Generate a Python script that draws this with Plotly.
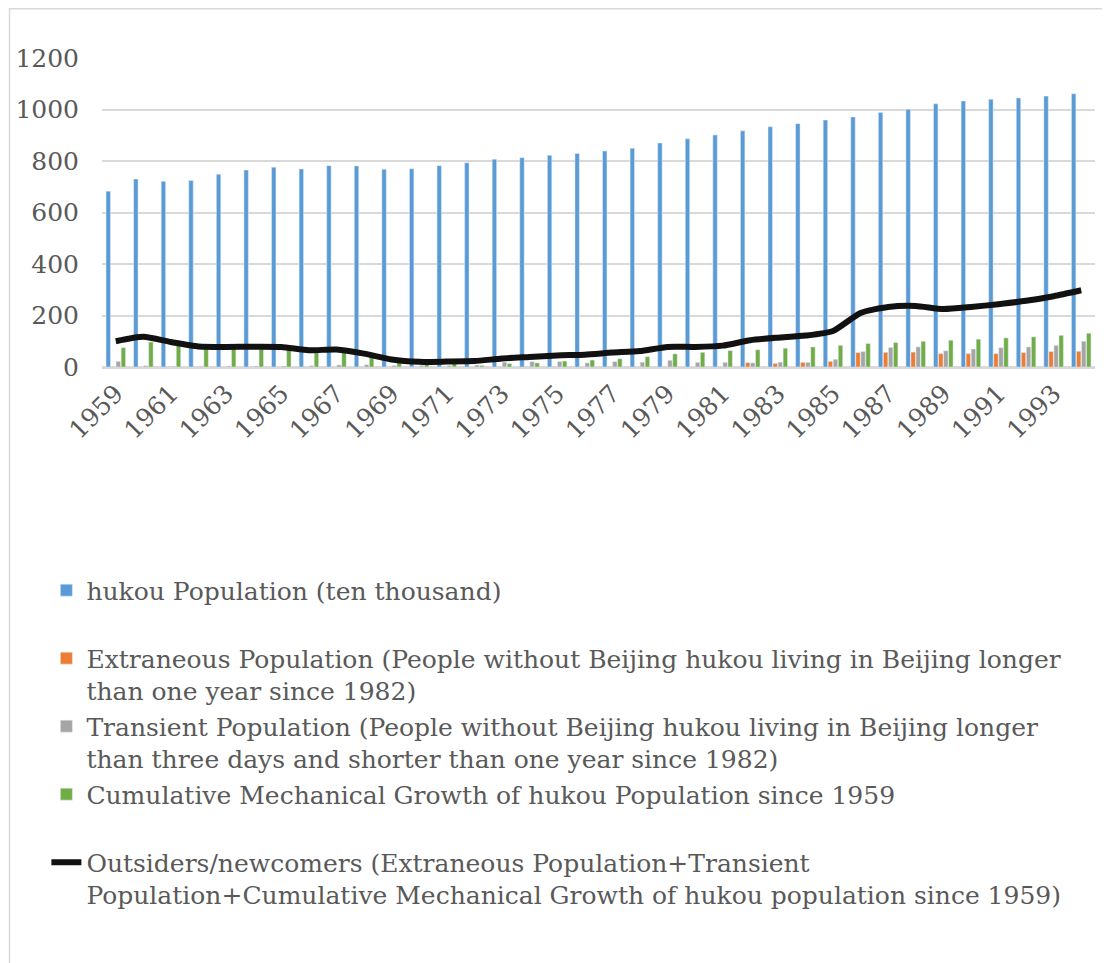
import plotly.graph_objects as go

years = [str(y) for y in range(1959, 1995)]

hukou = [683, 730, 721, 724, 749, 765, 776, 769, 782, 781, 768, 770, 782, 793, 807, 813, 822, 829,
         839, 850, 870, 886, 901, 917, 933, 945, 959, 971, 988, 1001, 1022, 1033, 1040, 1045, 1052, 1061]

extraneous = [None] * 23 + [17, 14, 18, 22, 56, 57, 58, 52, 52, 52, 56, 60, 61]

transient = [22, 5, 3, 3, 4, 4, 4, 5, 8, 9, 6, 6, 6, 8, 19, 21, 21, 16,
             21, 19, 26, 18, 18, 16, 19, 18, 30, 60, 76, 78, 63, 70, 75, 78, 84, 100]

cumulative = [75, 97, 85, 76, 75, 75, 75, 60, 62, 45, 22, 14, 14, 6, 13, 16, 23, 27,
              32, 40, 51, 57, 64, 67, 73, 78, 84, 91, 95, 100, 104, 108, 113, 117, 123, 131]

outsiders = [100, 117, 97, 80, 78, 79, 78, 65, 68, 52, 29, 20, 21, 23, 33, 39, 45, 48,
             56, 62, 78, 78, 83, 104, 114, 122, 140, 210, 233, 237, 225, 233, 244, 257, 275, 298]

tick_years = [str(y) for y in range(1959, 1995, 2)]
y_ticks = [0, 200, 400, 600, 800, 1000, 1200]

names = [
    "hukou Population (ten thousand)<br>\u00a0",
    "Extraneous Population (People without Beijing hukou living in Beijing longer<br>than one year since 1982)",
    "Transient Population (People without Beijing hukou living in Beijing longer<br>than three days and shorter than one year since 1982)",
    "Cumulative Mechanical Growth of hukou Population since 1959<br>\u00a0",
    "Outsiders/newcomers (Extraneous Population+Transient<br>Population+Cumulative Mechanical Growth of hukou population since 1959)",
]

FONT = "DejaVu Serif"
TXT = "#595959"
FS = 25

fig = go.Figure()
fig.add_trace(go.Bar(x=years, y=hukou, name=names[0], marker_color="#5B9BD5", legendgroup="a"))
fig.add_trace(go.Bar(x=years, y=extraneous, name=names[1], marker_color="#ED7D31", legendgroup="b"))
fig.add_trace(go.Bar(x=years, y=transient, name=names[2], marker_color="#A5A5A5", legendgroup="c"))
fig.add_trace(go.Bar(x=years, y=cumulative, name=names[3], marker_color="#70AD47", legendgroup="d"))
fig.add_trace(go.Scatter(x=years, y=outsiders, name=names[4], mode="lines", legendgroup="e",
                         line=dict(color="#111111", width=6, shape="spline", smoothing=0.6)))

# page body has an 8px default margin, so the figure is 8px smaller and offset
W, H = 1102, 955
L, R, T, B = 94, 15, 50, 596
PW, PH = W - L - R, H - T - B

fig.update_layout(
    width=W, height=H,
    margin=dict(l=L, r=R, t=T, b=B, autoexpand=False),
    paper_bgcolor="white", plot_bgcolor="white",
    font=dict(family=FONT, size=FS, color=TXT),
    barmode="group", bargap=0.27, bargroupgap=0.12,
    showlegend=True,
    legend=dict(
        orientation="v", x=-0.056, xanchor="left", y=-0.6485, yanchor="top",
        font=dict(family=FONT, size=FS, color=TXT), valign="top",
        bgcolor="rgba(0,0,0,0)", tracegroupgap=1, traceorder="normal",
    ),
    xaxis=dict(
        type="category", tickmode="array", tickvals=tick_years, ticktext=tick_years,
        tickangle=-45, showgrid=False, showline=True, linecolor="#D9D9D9", linewidth=2,
        ticks="", automargin=False, tickfont=dict(family=FONT, size=FS, color=TXT),
    ),
    yaxis=dict(
        range=[0, 1200], tickmode="array", tickvals=y_ticks, showgrid=True,
        gridcolor="#D9D9D9", gridwidth=1.5, zeroline=True, zerolinecolor="#D9D9D9",
        zerolinewidth=2, showline=False, ticks="", ticklabelstandoff=22, automargin=False,
        tickfont=dict(family=FONT, size=FS, color=TXT),
    ),
    shapes=[dict(type="rect", xref="paper", yref="paper",
                 x0=(1.5 - L) / PW, x1=(1120 - L) / PW,
                 y0=(H - B - 975) / PH, y1=(H - B - 0.8) / PH,
                 line=dict(color="#D9D9D9", width=1.5), fillcolor="rgba(0,0,0,0)", layer="below")],
)

fig.write_html("out.html")
